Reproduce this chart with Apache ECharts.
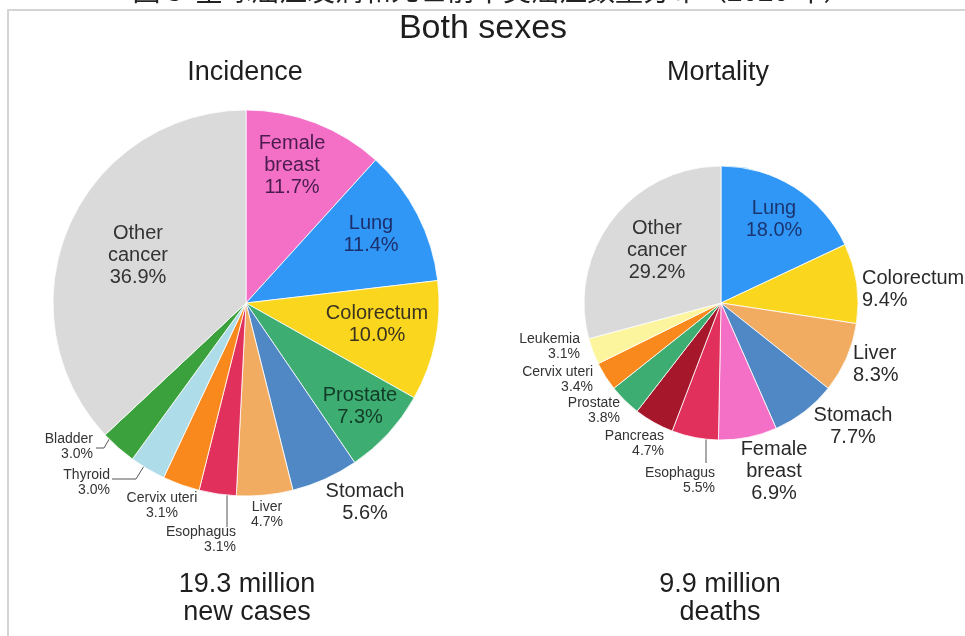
<!DOCTYPE html>
<html>
<head>
<meta charset="utf-8">
<script src="https://cdn.jsdelivr.net/npm/echarts@6/dist/echarts.min.js"></script>
<style>
html,body{margin:0;padding:0;background:#fff;}
#chart{width:965px;height:636px;}
</style>
</head>
<body>
<div id="chart"></div>
<script>
// ---------------- data ----------------
const incidenceNames = ['Female breast','Lung','Colorectum','Prostate','Stomach','Liver','Esophagus','Cervix uteri','Thyroid','Bladder','Other cancer'];
const incidenceValues = [11.7, 11.4, 10.0, 7.3, 5.6, 4.7, 3.1, 3.1, 3.0, 3.0, 36.9];
const mortalityNames = ['Lung','Colorectum','Liver','Stomach','Female breast','Esophagus','Pancreas','Prostate','Cervix uteri','Leukemia','Other cancer'];
const mortalityValues = [18.0, 9.4, 8.3, 7.7, 6.9, 5.5, 4.7, 3.8, 3.4, 3.1, 29.2];
const totals = ['19.3 million\nnew cases', '9.9 million\ndeaths'];
const panelTitles = ['Incidence', 'Mortality'];
const mainTitle = 'Both sexes';
const figureTitle = '图 3  全球癌症发病和死亡前十类癌症数量分布（2020 年）';

// ---------------- styles ----------------
const sliceColors = {
  'Female breast':'#F46FC6', 'Lung':'#3097F7', 'Colorectum':'#FAD61E', 'Prostate':'#3DAD72',
  'Stomach':'#4F88C5', 'Liver':'#F2AC62', 'Esophagus':'#E1305B', 'Cervix uteri':'#FA891D',
  'Thyroid':'#AFDCE9', 'Bladder':'#3BA13C', 'Other cancer':'#DADADA', 'Pancreas':'#A6172B',
  'Leukemia':'#FCF59E'
};
const FONT = '"Liberation Sans", Arial, sans-serif';
const BIG = {fontSize:20, lineHeight:22};
const SMALL = {fontSize:14, lineHeight:15};

// label placement (label anchor, alignment, size, text colour, optional guide line)
const incidenceLabels = {
  'Female breast': {x:292, y:165, align:'center', s:BIG, c:'#4A1C4E'},
  'Lung':          {x:371, y:234, align:'center', s:BIG, c:'#1C2F6B'},
  'Colorectum':    {x:377, y:324, align:'center', s:BIG, c:'#3A3320'},
  'Prostate':      {x:360, y:406, align:'center', s:BIG, c:'#123B27'},
  'Stomach':       {x:365, y:502, align:'center', s:BIG, c:'#2A2A2A'},
  'Liver':         {x:267, y:515, align:'center', s:SMALL, c:'#333'},
  'Esophagus':     {x:236, y:540, align:'right', s:SMALL, c:'#333', line:[[227,494],[227,527]]},
  'Cervix uteri':  {x:162, y:506, align:'center', s:SMALL, c:'#333'},
  'Thyroid':       {x:110, y:483, align:'right', s:SMALL, c:'#333', line:[[112,479],[136,479],[144,466]]},
  'Bladder':       {x:93,  y:447, align:'right', s:SMALL, c:'#333', line:[[96,448],[104,448],[111,436]]},
  'Other cancer':  {x:138, y:255, align:'center', s:BIG, c:'#333'}
};
const mortalityLabels = {
  'Lung':          {x:774, y:219, align:'center', s:BIG, c:'#1B3570'},
  'Colorectum':    {x:862, y:289, align:'left', s:BIG, c:'#2A2A2A'},
  'Liver':         {x:853, y:364, align:'left', s:BIG, c:'#2A2A2A'},
  'Stomach':       {x:853, y:426, align:'center', s:BIG, c:'#2A2A2A'},
  'Female breast': {x:774, y:471, align:'center', s:BIG, c:'#2A2A2A'},
  'Esophagus':     {x:715, y:481, align:'right', s:SMALL, c:'#333', line:[[706,439],[706,463]]},
  'Pancreas':      {x:664, y:444, align:'right', s:SMALL, c:'#333'},
  'Prostate':      {x:620, y:411, align:'right', s:SMALL, c:'#333'},
  'Cervix uteri':  {x:593, y:380, align:'right', s:SMALL, c:'#333'},
  'Leukemia':      {x:580, y:347, align:'right', s:SMALL, c:'#333'},
  'Other cancer':  {x:657, y:250, align:'center', s:BIG, c:'#333'}
};

function displayName(n){
  if (n === 'Female breast') return 'Female\nbreast';
  if (n === 'Other cancer') return 'Other\ncancer';
  return n;
}

function buildData(names, values, labels){
  return names.map((n, i) => {
    const L = labels[n];
    const hasLine = !!L.line;
    return {
      name: n,
      value: values[i],
      itemStyle: {color: sliceColors[n]},
      label: {
        position: hasLine ? 'outside' : 'inside',
        fontSize: L.s.fontSize, lineHeight: L.s.lineHeight,
        color: L.c, fontFamily: FONT
      },
      labelLine: {show: hasLine, length: 10, length2: 10, lineStyle: {color:'#555', width:1}}
    };
  });
}

function makeLayout(names, labels){
  return function(params){
    const L = labels[names[params.dataIndex]];
    const o = {x: L.x, y: L.y, align: L.align, verticalAlign: 'middle'};
    if (L.line) o.labelLinePoints = L.line;
    return o;
  };
}

function pieSeries(names, values, labels, center, radius){
  return {
    type: 'pie',
    center: center,
    radius: radius,
    startAngle: 90,
    clockwise: true,
    avoidLabelOverlap: false,
    silent: true,
    itemStyle: {borderColor:'#ffffff', borderWidth:0.8},
    label: {
      show: true,
      formatter: p => displayName(p.name) + '\n' + p.value.toFixed(1) + '%'
    },
    labelLayout: makeLayout(names, labels),
    data: buildData(names, values, labels)
  };
}

const chart = echarts.init(document.getElementById('chart'), null, {renderer:'canvas'});
chart.setOption({
  backgroundColor: '#ffffff',
  animation: false,
  graphic: [
    {type:'rect', shape:{x:8, y:10, width:1000, height:700}, style:{fill:'none', stroke:'#D4D4D4', lineWidth:2}, z:-1},
    {type:'text', x:492, y:-10, style:{text:figureTitle, font:'28px "Noto Sans CJK SC"', fill:'#222', align:'center', verticalAlign:'middle'}},
    {type:'text', x:483, y:29, style:{text:mainTitle, font:'34px ' + FONT, fill:'#1E1E1E', align:'center', verticalAlign:'middle'}},
    {type:'text', x:245, y:73, style:{text:panelTitles[0], font:'27px ' + FONT, fill:'#1E1E1E', align:'center', verticalAlign:'middle'}},
    {type:'text', x:718, y:73, style:{text:panelTitles[1], font:'27px ' + FONT, fill:'#1E1E1E', align:'center', verticalAlign:'middle'}},
    {type:'text', x:247, y:599, style:{text:totals[0], font:'27px ' + FONT, lineHeight:28, fill:'#1E1E1E', align:'center', verticalAlign:'middle'}},
    {type:'text', x:720, y:599, style:{text:totals[1], font:'27px ' + FONT, lineHeight:28, fill:'#1E1E1E', align:'center', verticalAlign:'middle'}}
  ],
  series: [
    pieSeries(incidenceNames, incidenceValues, incidenceLabels, [246, 303], 193),
    pieSeries(mortalityNames, mortalityValues, mortalityLabels, [721, 303], 137)
  ]
});
</script>
</body>
</html>
